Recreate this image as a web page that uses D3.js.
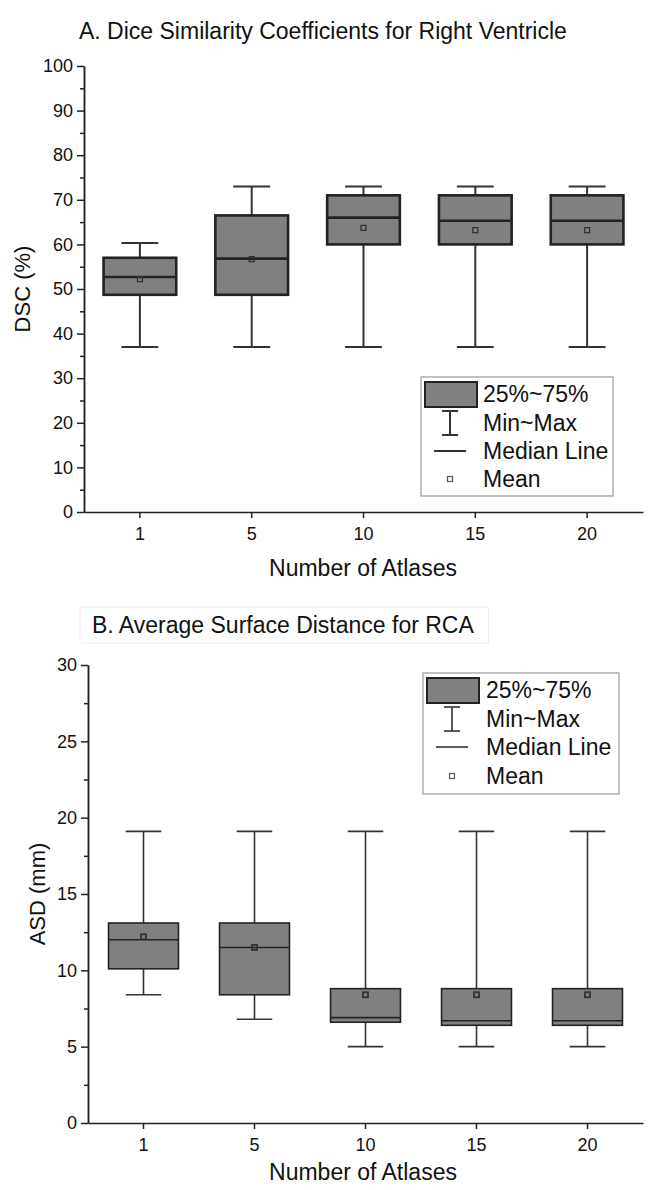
<!DOCTYPE html>
<meta charset="utf-8">
<style>
body { margin: 0; background: #fff; }
text { font-family: "Liberation Sans", Arial, sans-serif; fill: #111; }
.axis path, .axis line { stroke: #222; stroke-width: 1.5px; }
.axis text { font-family: "Liberation Sans", Arial, sans-serif; font-size: 18px; fill: #111; }
</style>
<svg width="653" height="1190"></svg>
<script src="https://d3js.org/d3.v7.min.js"></script>
<script>

var atlases = ["1", "5", "10", "15", "20"];

// panel A, DSC (%)
var dscMin  = [37, 37, 37, 37, 37];
var dscQ1   = [48.7, 48.7, 60, 60, 60];
var dscMed  = [52.7, 56.8, 66, 65.3, 65.3];
var dscMean = [52.2, 56.7, 63.7, 63.2, 63.2];
var dscQ3   = [57, 66.5, 71, 71, 71];
var dscMax  = [60.3, 73, 73, 73, 73];
var dscTicks = [0, 10, 20, 30, 40, 50, 60, 70, 80, 90, 100];
var dscMinor = [5, 15, 25, 35, 45, 55, 65, 75, 85, 95];

// panel B, ASD (mm)
var asdMin  = [8.4, 6.8, 5.0, 5.0, 5.0];
var asdQ1   = [10.1, 8.4, 6.6, 6.4, 6.4];
var asdMed  = [12.0, 11.5, 6.9, 6.7, 6.7];
var asdMean = [12.2, 11.5, 8.4, 8.4, 8.4];
var asdQ3   = [13.1, 13.1, 8.8, 8.8, 8.8];
var asdMax  = [19.1, 19.1, 19.1, 19.1, 19.1];
var asdTicks = [0, 5, 10, 15, 20, 25, 30];
var asdMinor = [2.5, 7.5, 12.5, 17.5, 22.5, 27.5];

var legendLabels = ["25%~75%", "Min~Max", "Median Line", "Mean"];

var svg = d3.select("svg");
var fillGray = "#808080";

function panel(o) {
  var g = svg.append("g");
  var x = d3.scaleBand().domain(atlases).range([o.left, 643]);
  var y = d3.scaleLinear().domain(o.domain).range([o.bottom, o.top]);
  var bw = x.bandwidth() * o.boxFrac;
  var cw = x.bandwidth() * o.capFrac;

  // title
  var t = g.append("text").attr("x", o.titleX).attr("y", o.titleY)
    .style("font-size", "23px").text(o.title);
  if (o.titleBox) {
    var bb = t.node().getBBox();
    g.insert("rect", "text").attr("x", bb.x - 12).attr("y", bb.y - 5)
      .attr("width", bb.width + 26).attr("height", bb.height + 10)
      .attr("fill", "none").attr("stroke", "#eeeeee");
  }

  // axes
  g.append("g").attr("class", "axis")
    .attr("transform", "translate(" + o.left + ",0)")
    .call(d3.axisLeft(y).tickValues(o.ticks).tickSize(7).tickSizeOuter(0).tickPadding(4));
  g.append("g").attr("class", "axis")
    .attr("transform", "translate(" + o.left + ",0)")
    .call(d3.axisLeft(y).tickValues(o.minor).tickSize(4).tickFormat("").tickSizeOuter(0));
  g.append("g").attr("class", "axis")
    .attr("transform", "translate(0," + o.bottom + ")")
    .call(d3.axisBottom(x).tickSize(6).tickSizeOuter(0).tickPadding(9));

  g.append("text").attr("x", 363).attr("y", o.bottom + o.xlabDy)
    .attr("text-anchor", "middle").style("font-size", "23px").text("Number of Atlases");
  g.append("text")
    .attr("transform", "translate(" + o.ylabX + "," + (o.top + o.bottom) / 2 + ") rotate(-90)")
    .attr("text-anchor", "middle").style("font-size", "22px").text(o.ylabel);

  // boxes
  var idx = d3.range(atlases.length);
  var cx = function(i) { return x(atlases[i]) + x.bandwidth() / 2; };
  var box = g.selectAll(".box").data(idx).enter().append("g");
  box.append("line")
    .attr("x1", cx).attr("x2", cx)
    .attr("y1", function(i) { return y(o.max[i]); })
    .attr("y2", function(i) { return y(o.min[i]); })
    .attr("stroke", "#333").attr("stroke-width", o.wsw);
  [o.max, o.min].forEach(function(arr) {
    box.append("line")
      .attr("x1", function(i) { return cx(i) - cw / 2; })
      .attr("x2", function(i) { return cx(i) + cw / 2; })
      .attr("y1", function(i) { return y(arr[i]); })
      .attr("y2", function(i) { return y(arr[i]); })
      .attr("stroke", "#333").attr("stroke-width", o.wsw);
  });
  box.append("rect")
    .attr("x", function(i) { return cx(i) - bw / 2; })
    .attr("width", bw)
    .attr("y", function(i) { return y(o.q3[i]); })
    .attr("height", function(i) { return y(o.q1[i]) - y(o.q3[i]); })
    .attr("fill", fillGray).attr("stroke", "#222").attr("stroke-width", o.bsw);
  box.append("line")
    .attr("x1", function(i) { return cx(i) - bw / 2; })
    .attr("x2", function(i) { return cx(i) + bw / 2; })
    .attr("y1", function(i) { return y(o.med[i]); })
    .attr("y2", function(i) { return y(o.med[i]); })
    .attr("stroke", "#222").attr("stroke-width", o.bsw);
  box.append("rect")
    .attr("x", function(i) { return cx(i) - 2.5; })
    .attr("y", function(i) { return y(o.mean[i]) - 2.5; })
    .attr("width", 5).attr("height", 5)
    .attr("fill", "none").attr("stroke", "#333").attr("stroke-width", o.msw);

  // legend
  var L = o.legend;
  var lg = g.append("g");
  lg.append("rect").attr("x", L.x).attr("y", L.y).attr("width", L.w).attr("height", L.h)
    .attr("fill", "#fff").attr("stroke", "#999").attr("stroke-width", 1.2);
  var ic = L.x + 29;
  lg.append("rect").attr("x", L.x + 4).attr("y", L.y + 5).attr("width", 52).attr("height", 25)
    .attr("fill", fillGray).attr("stroke", "#222").attr("stroke-width", 2);
  var r2 = L.y + L.rows[1];
  lg.append("line").attr("x1", ic).attr("x2", ic).attr("y1", r2 - 12).attr("y2", r2 + 12)
    .attr("stroke", "#333").attr("stroke-width", o.wsw);
  [r2 - 12, r2 + 12].forEach(function(yy) {
    lg.append("line").attr("x1", ic - 8).attr("x2", ic + 8).attr("y1", yy).attr("y2", yy)
      .attr("stroke", "#333").attr("stroke-width", o.wsw);
  });
  var r3 = L.y + L.rows[2];
  lg.append("line").attr("x1", ic - 16).attr("x2", ic + 16).attr("y1", r3).attr("y2", r3)
    .attr("stroke", "#333").attr("stroke-width", o.wsw);
  var r4 = L.y + L.rows[3];
  lg.append("rect").attr("x", ic - 2.5).attr("y", r4 - 2.5).attr("width", 5).attr("height", 5)
    .attr("fill", "none").attr("stroke", "#555").attr("stroke-width", 1.2);
  lg.selectAll(".lt").data(legendLabels).enter().append("text")
    .attr("x", L.x + L.tx)
    .attr("y", function(d, i) { return L.y + L.rows[i] + 8; })
    .style("font-size", "23px").text(function(d) { return d; });
}

panel({
  title: "A. Dice Similarity Coefficients for Right Ventricle",
  titleX: 79, titleY: 39, titleBox: false,
  ylabel: "DSC (%)", ylabX: 30,
  left: 84, top: 66, bottom: 512, xlabDy: 64,
  domain: [0, 100], ticks: dscTicks, minor: dscMinor,
  min: dscMin, q1: dscQ1, med: dscMed, mean: dscMean, q3: dscQ3, max: dscMax,
  boxFrac: 0.65, capFrac: 0.33, bsw: 2.6, wsw: 2, msw: 1.3,
  legend: { x: 421, y: 377, w: 192, h: 119, tx: 62, rows: [17, 46, 74, 102] }
});

panel({
  title: "B. Average Surface Distance for RCA",
  titleX: 92, titleY: 633, titleBox: true,
  ylabel: "ASD (mm)", ylabX: 45,
  left: 88, top: 665, bottom: 1123, xlabDy: 57,
  domain: [0, 30], ticks: asdTicks, minor: asdMinor,
  min: asdMin, q1: asdQ1, med: asdMed, mean: asdMean, q3: asdQ3, max: asdMax,
  boxFrac: 0.63, capFrac: 0.32, bsw: 1.6, wsw: 1.6, msw: 1.8,
  legend: { x: 423, y: 673, w: 196, h: 121, tx: 63, rows: [17, 46, 74, 103] }
});

</script>
